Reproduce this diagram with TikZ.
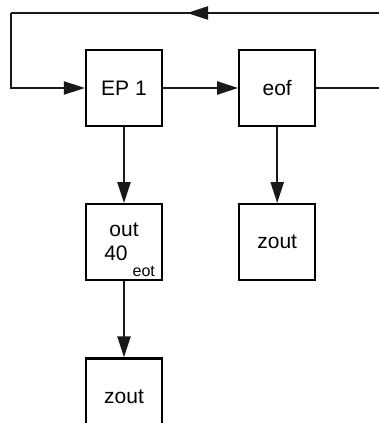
\documentclass[tikz,border=0pt]{standalone}
\usepackage{fontspec}
\setmainfont{Liberation Sans}
\usetikzlibrary{arrows.meta,positioning}
\tikzset{stepbox/.style={draw, line width=2.2pt, minimum size=76pt, inner sep=0pt,
  align=center, fill=white},
  flowline/.style={line width=2.2pt, color=black!90},
  flowarrow/.style={flowline, -{Triangle[length=21pt,width=13pt]}},
  flow/.style={x=1pt, y=-1pt, font=\fontsize{21}{24}\selectfont, node distance=76pt}}

\begin{document}
\begin{tikzpicture}[flow]
    \clip (0,0) rectangle (379,423);
    \node[stepbox] (ep) at (124,88) {EP 1};
    \node[stepbox, right=75pt of ep] (eof) {eof};
    \node[stepbox, below=of ep] (out) {out\\\kern-16pt 40\rlap{\kern5pt\smash{\raisebox{-16pt}{\fontsize{16}{16}\selectfont eot}}}};
    \node[stepbox, below=of out] (zoutb) {zout};
    \node[stepbox, below=of eof] (zouta) {zout};
    % feedback loop running off the right edge
    \coordinate (back) at (400,13);
    \coordinate (mid) at (187,13);
    \coordinate (corner) at (11,13);
    \draw[flowline] (eof.east) -- (eof -| back) -- (back) -- (mid);
    \draw[flowarrow] (258,13) -- (mid);
    \draw[flowline] (mid) -- (corner);
    \draw[flowarrow] (corner) |- (ep.west);
    \draw[flowarrow] (ep) -- (eof);
    \draw[flowarrow] (ep) -- (out);
    \draw[flowarrow] (out) -- (zoutb);
    \draw[flowarrow] (eof) -- (zouta);
  \end{tikzpicture}
\end{document}
